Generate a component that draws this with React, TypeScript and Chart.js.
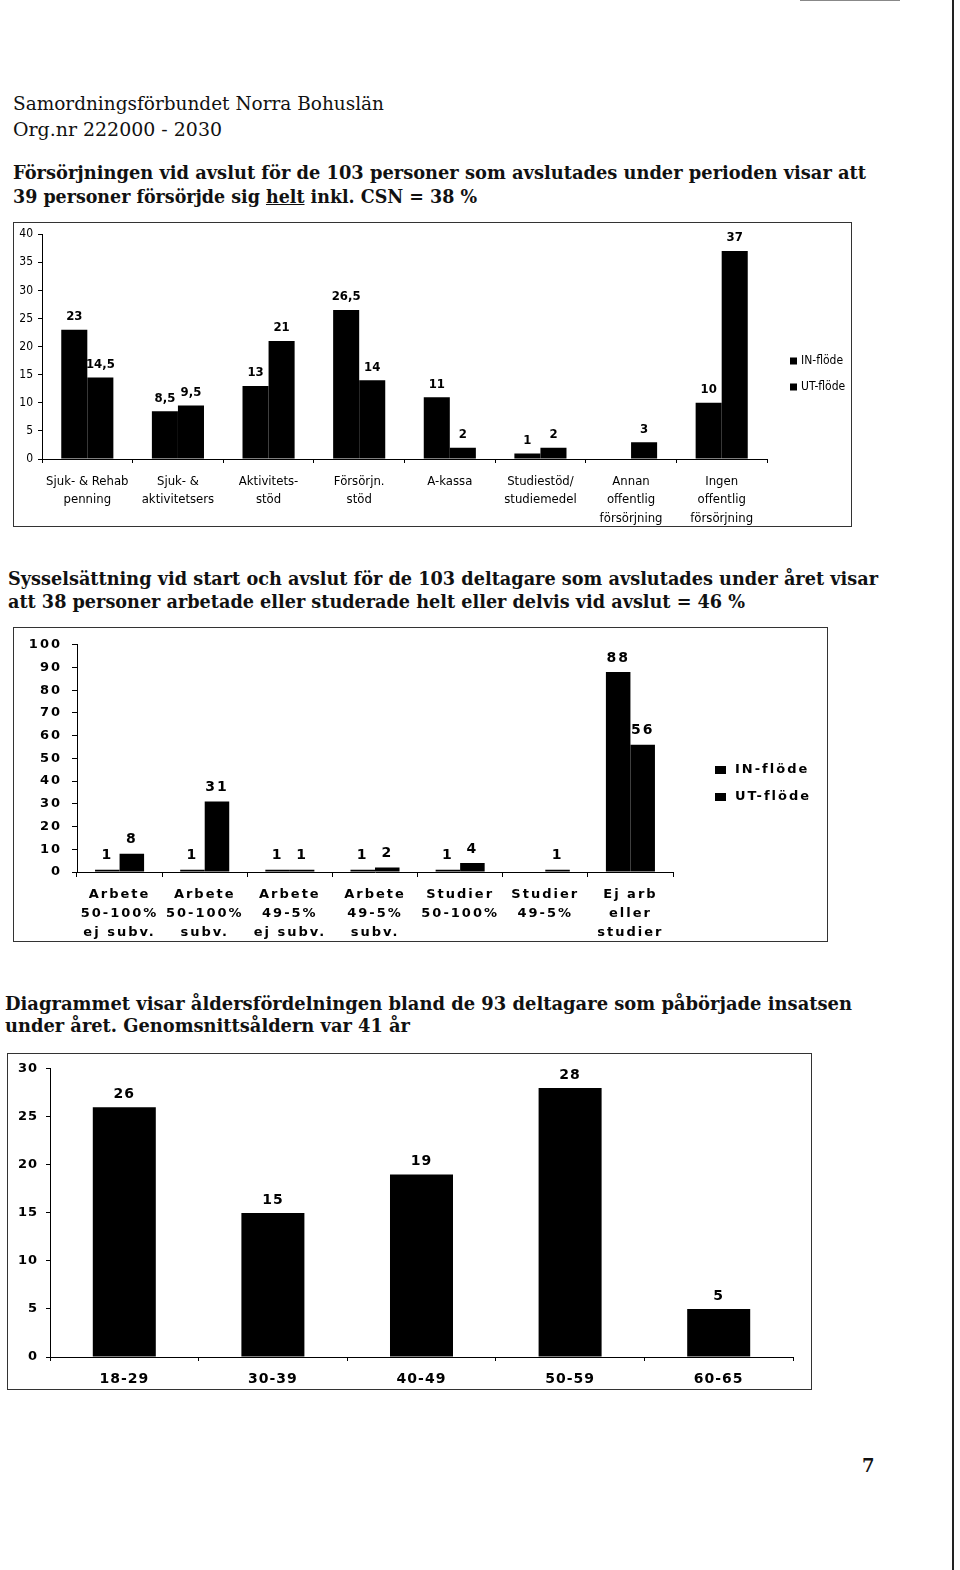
import React, { useEffect, useLayoutEffect, useRef } from 'react';
import { Chart, registerables } from 'chart.js';

Chart.register(...registerables);

// ---------- Chart 1: Försörjning ----------
const c1Categories: string[][] = [
  ['Sjuk- & Rehab', 'penning'],
  ['Sjuk- &', 'aktivitetsers'],
  ['Aktivitets-', 'stöd'],
  ['Försörjn.', 'stöd'],
  ['A-kassa'],
  ['Studiestöd/', 'studiemedel'],
  ['Annan', 'offentlig', 'försörjning'],
  ['Ingen', 'offentlig', 'försörjning'],
];
const c1In: (number | null)[] = [23, 8.5, 13, 26.5, 11, 1, null, 10];
const c1Ut: (number | null)[] = [14.5, 9.5, 21, 14, 2, 2, 3, 37];
const c1Max = 40;
const c1Step = 5;

// ---------- Chart 2: Sysselsättning ----------
const c2Categories: string[][] = [
  ['Arbete', '50-100%', 'ej subv.'],
  ['Arbete', '50-100%', 'subv.'],
  ['Arbete', '49-5%', 'ej subv.'],
  ['Arbete', '49-5%', 'subv.'],
  ['Studier', '50-100%'],
  ['Studier', '49-5%'],
  ['Ej arb', 'eller', 'studier'],
];
const c2In: (number | null)[] = [1, 1, 1, 1, 1, null, 88];
const c2Ut: (number | null)[] = [8, 31, 1, 2, 4, 1, 56];
const c2Max = 100;
const c2Step = 10;

// ---------- Chart 3: Ålder ----------
const c3Categories: string[] = ['18-29', '30-39', '40-49', '50-59', '60-65'];
const c3Values: number[] = [26, 15, 19, 28, 5];
const c3Max = 30;
const c3Step = 5;

const seriesNames = ['IN-flöde', 'UT-flöde'];

const SERIF = "'DejaVu Serif', 'Liberation Serif', serif";
const F1 = "'Liberation Sans Narrow', 'DejaVu Sans Condensed', 'Roboto', sans-serif";
const F2 = "'DejaVu Sans', Verdana, sans-serif";

const fmt = (v: number) => String(v).replace('.', ',');

function spacingPlugin(px: string) {
  return {
    id: 'spacing',
    beforeLayout(chart: any) { chart.ctx.letterSpacing = px; },
    beforeDraw(chart: any) { chart.ctx.letterSpacing = px; },
  };
}

function valueLabels(font: string, offset: number) {
  return {
    id: 'valueLabels',
    afterDatasetsDraw(chart: any) {
      const ctx = chart.ctx;
      ctx.save();
      ctx.font = font;
      ctx.fillStyle = '#000';
      ctx.textAlign = 'center';
      ctx.textBaseline = 'middle';
      chart.data.datasets.forEach((ds: any, i: number) => {
        const meta = chart.getDatasetMeta(i);
        meta.data.forEach((el: any, j: number) => {
          const v = ds.data[j];
          if (v === null || v === undefined) return;
          ctx.fillText(fmt(v), el.x, el.y - offset);
        });
      });
      ctx.restore();
    },
  };
}

function legendPlugin(o: { bx: number; bw: number; bh: number; tx: number; ys: number[]; font: string }) {
  return {
    id: 'customLegend',
    afterDraw(chart: any) {
      const ctx = chart.ctx;
      ctx.save();
      ctx.font = o.font;
      ctx.textAlign = 'left';
      ctx.textBaseline = 'middle';
      chart.data.datasets.forEach((ds: any, i: number) => {
        const y = o.ys[i];
        ctx.fillStyle = ds.backgroundColor;
        ctx.fillRect(o.bx, y - o.bh / 2, o.bw, o.bh);
        ctx.fillStyle = '#000';
        ctx.fillText(ds.label, o.tx, y);
      });
      ctx.restore();
    },
  };
}

function ChartCanvas({ left, top, width, height, build }: { left: number; top: number; width: number; height: number; build: () => any }) {
  const ref = useRef<HTMLCanvasElement>(null);
  useEffect(() => {
    const chart = new Chart(ref.current as HTMLCanvasElement, build());
    return () => chart.destroy();
  }, []);
  return (
    <canvas
      ref={ref}
      width={width}
      height={height}
      style={{ position: 'absolute', left, top, width, height, display: 'block' }}
    />
  );
}

function TextLine({ x, cy, width, size, bold, lh, children }: any) {
  const ref = useRef<HTMLSpanElement>(null);
  useLayoutEffect(() => {
    const el = ref.current;
    if (!el) return;
    el.style.transform = 'none';
    const w = el.getBoundingClientRect().width;
    if (w > 0 && width) el.style.transform = `scaleX(${width / w})`;
  }, [width]);
  return (
    <div
      style={{
        position: 'absolute',
        left: x,
        top: cy - lh / 2,
        height: lh,
        lineHeight: lh + 'px',
        whiteSpace: 'nowrap',
        fontFamily: SERIF,
        fontSize: size,
        fontWeight: bold ? 700 : 400,
        color: '#111',
      }}
    >
      <span ref={ref} style={{ display: 'inline-block', transformOrigin: 'left center' }}>{children}</span>
    </div>
  );
}

function Box({ left, top, width, height }: any) {
  return (
    <div
      style={{
        position: 'absolute', left, top, width, height, boxSizing: 'border-box',
        border: '1px solid #333', pointerEvents: 'none',
      }}
    />
  );
}

function axisCommon(fontFamily: string) {
  return { fontFamily };
}

function buildChart1() {
  return {
    type: 'bar',
    data: {
      labels: c1Categories,
      datasets: [
        { label: seriesNames[0], data: c1In, backgroundColor: '#000', categoryPercentage: 0.575, barPercentage: 1 },
        { label: seriesNames[1], data: c1Ut, backgroundColor: '#000', categoryPercentage: 0.575, barPercentage: 1 },
      ],
    },
    options: {
      responsive: false,
      maintainAspectRatio: false,
      animation: false,
      layout: { padding: { top: 9, right: 85, left: 0, bottom: 0 } },
      plugins: { legend: { display: false }, tooltip: { enabled: false } },
      scales: {
        x: {
          grid: { offset: true, drawOnChartArea: false, tickLength: 4, color: '#000' },
          border: { color: '#000', width: 1 },
          ticks: { color: '#000', font: { family: F1, size: 13, lineHeight: 1.42 }, padding: 9, maxRotation: 0, autoSkip: false },
          afterFit: (s: any) => { s.height = 68; },
        },
        y: {
          min: 0, max: c1Max,
          ticks: { stepSize: c1Step, color: '#000', font: { family: F1, size: 12 }, padding: 5 },
          grid: { drawOnChartArea: false, tickLength: 4, color: '#000' },
          border: { color: '#000', width: 1 },
          afterFit: (s: any) => { s.width = 29; },
        },
      },
    },
    plugins: [
      valueLabels(`bold 13px ${F1}`, 13),
      legendPlugin({ bx: 777, bw: 7, bh: 7, tx: 788, ys: [139, 165], font: `12px ${F1}` }),
    ],
  };
}

function buildChart2() {
  return {
    type: 'bar',
    data: {
      labels: c2Categories,
      datasets: [
        { label: seriesNames[0], data: c2In, backgroundColor: '#000', categoryPercentage: 0.576, barPercentage: 1 },
        { label: seriesNames[1], data: c2Ut, backgroundColor: '#000', categoryPercentage: 0.576, barPercentage: 1 },
      ],
    },
    options: {
      responsive: false,
      maintainAspectRatio: false,
      animation: false,
      layout: { padding: { top: 11, right: 155, left: 0, bottom: 0 } },
      plugins: { legend: { display: false }, tooltip: { enabled: false } },
      scales: {
        x: {
          grid: { offset: true, drawOnChartArea: false, tickLength: 5, color: '#000' },
          border: { color: '#000', width: 1 },
          ticks: { color: '#000', font: { family: F2, size: 13, weight: 'bold', lineHeight: 1.46 }, padding: 8, maxRotation: 0, autoSkip: false },
          afterFit: (s: any) => { s.height = 70; },
        },
        y: {
          min: 0, max: c2Max,
          ticks: { stepSize: c2Step, color: '#000', font: { family: F2, size: 13, weight: 'bold' }, padding: 10 },
          grid: { drawOnChartArea: false, tickLength: 5, color: '#000' },
          border: { color: '#000', width: 1 },
          afterFit: (s: any) => { s.width = 64; },
        },
      },
    },
    plugins: [
      spacingPlugin('2px'),
      valueLabels(`bold 14px ${F2}`, 14),
      legendPlugin({ bx: 702, bw: 11, bh: 8, tx: 722, ys: [143, 170], font: `bold 13px ${F2}` }),
    ],
  };
}

function buildChart3() {
  return {
    type: 'bar',
    data: {
      labels: c3Categories,
      datasets: [
        { label: 'Antal', data: c3Values, backgroundColor: '#000', categoryPercentage: 1, barPercentage: 0.424 },
      ],
    },
    options: {
      responsive: false,
      maintainAspectRatio: false,
      animation: false,
      layout: { padding: { top: 10, right: 19, left: 0, bottom: 0 } },
      plugins: { legend: { display: false }, tooltip: { enabled: false } },
      scales: {
        x: {
          grid: { offset: true, drawOnChartArea: false, tickLength: 4, color: '#000' },
          border: { color: '#000', width: 1 },
          ticks: { color: '#000', font: { family: F2, size: 14, weight: 'bold', lineHeight: 1.3 }, padding: 9, maxRotation: 0, autoSkip: false },
          afterFit: (s: any) => { s.height = 33; },
        },
        y: {
          min: 0, max: c3Max,
          ticks: { stepSize: c3Step, color: '#000', font: { family: F2, size: 13, weight: 'bold' }, padding: 8 },
          grid: { drawOnChartArea: false, tickLength: 4, color: '#000' },
          border: { color: '#000', width: 1 },
          afterFit: (s: any) => { s.width = 43; },
        },
      },
    },
    plugins: [
      spacingPlugin('1px'),
      valueLabels(`bold 14px ${F2}`, 13),
    ],
  };
}

export default function App() {
  return (
    <div style={{ position: 'absolute', left: 0, top: 0, width: 960, height: 1570, background: '#fff', overflow: 'hidden' }}>
      {/* scan edge line */}
      <div style={{ position: 'absolute', left: 952, top: 0, width: 2, height: 1570, background: '#222' }} />
      <div style={{ position: 'absolute', left: 800, top: 0, width: 100, height: 1, background: '#888' }} />

      <TextLine x={13} cy={103} width={371} size={19} lh={26}>Samordningsförbundet Norra Bohuslän</TextLine>
      <TextLine x={13} cy={129} width={209} size={19} lh={26}>Org.nr 222000 - 2030</TextLine>

      <TextLine x={13} cy={172} width={853} size={19} bold lh={24}>
        Försörjningen vid avslut för de 103 personer som avslutades under perioden visar att
      </TextLine>
      <TextLine x={13} cy={196} width={464} size={19} bold lh={24}>
        39 personer försörjde sig <span style={{ textDecoration: 'underline' }}>helt</span> inkl. CSN = 38 %
      </TextLine>

      <ChartCanvas left={13} top={222} width={839} height={305} build={buildChart1} />
      <Box left={13} top={222} width={839} height={305} />

      <TextLine x={8} cy={578} width={870} size={19} bold lh={24}>
        Sysselsättning vid start och avslut för de 103 deltagare som avslutades under året visar
      </TextLine>
      <TextLine x={8} cy={601} width={737} size={19} bold lh={24}>
        att 38 personer arbetade eller studerade helt eller delvis vid avslut = 46 %
      </TextLine>

      <ChartCanvas left={13} top={627} width={815} height={315} build={buildChart2} />
      <Box left={13} top={627} width={815} height={315} />

      <TextLine x={5} cy={1003} width={847} size={19} bold lh={24}>
        Diagrammet visar åldersfördelningen bland de 93 deltagare som påbörjade insatsen
      </TextLine>
      <TextLine x={5} cy={1025} width={405} size={19} bold lh={24}>
        under året. Genomsnittsåldern var 41 år
      </TextLine>

      <ChartCanvas left={7} top={1053} width={805} height={337} build={buildChart3} />
      <Box left={7} top={1053} width={805} height={337} />

      <TextLine x={862} cy={1466} width={0} size={18} bold lh={22}>7</TextLine>
    </div>
  );
}
